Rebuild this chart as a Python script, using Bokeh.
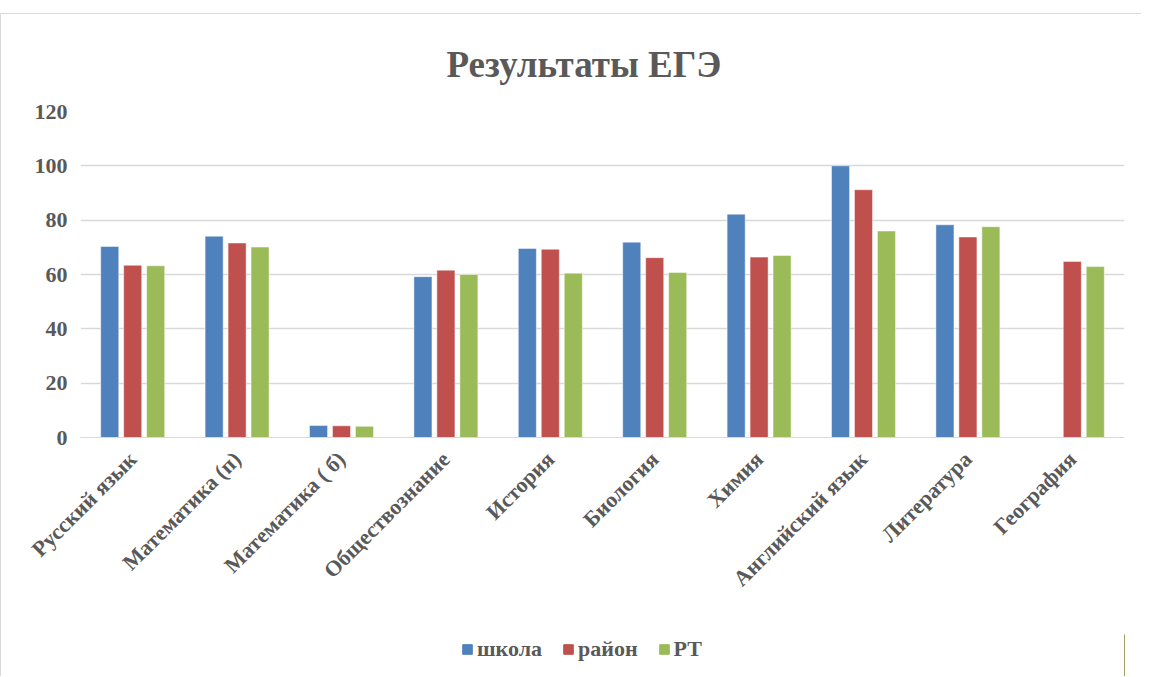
import math
from bokeh.plotting import figure
from bokeh.layouts import column
from bokeh.models import ColumnDataSource, FactorRange, Range1d, FixedTicker, Legend, LegendItem, Title
from bokeh.transform import dodge
from bokeh.embed import file_html
from bokeh.resources import INLINE

categories = ["Русский язык", "Математика (п)", "Математика ( б)", "Обществознание",
              "История", "Биология", "Химия", "Английский язык", "Литература", "География"]
school = [70.3, 74.1, 4.4, 59.2, 69.6, 71.9, 82.2, 100.0, 78.3, float("nan")]
district = [63.4, 71.6, 4.3, 61.6, 69.3, 66.2, 66.4, 91.2, 73.8, 64.8]
rt = [63.2, 70.1, 4.1, 60.0, 60.5, 60.7, 67.0, 76.0, 77.6, 62.9]
series_names = ["школа", "район", "РТ"]
y_ticks = [0, 20, 40, 60, 80, 100, 120]

colors = ["#4F81BD", "#C0504D", "#9BBB59"]
FONT = "Liberation Serif"
TXT = "#595959"

src = ColumnDataSource(dict(cat=categories, school=school, district=district, rt=rt))

p = figure(x_range=FactorRange(*categories), y_range=Range1d(0, 120),
           width=1140, height=620, output_backend="svg", toolbar_location=None,
           min_border_left=79, min_border_right=17, min_border_top=96, min_border_bottom=197)
p.outline_line_color = None

w = 0.173
off = 0.22
for field, o, c in zip(["school", "district", "rt"], [-off, 0, off], colors):
    p.vbar(x=dodge("cat", o, range=p.x_range), top=field, width=w, source=src,
           fill_color=c, line_color="white", line_width=0.8, line_alpha=0.6)

t = Title(text="Результаты ЕГЭ", align="left", text_font=FONT, text_font_size="37px",
          text_font_style="bold", text_color=TXT, offset=366, standoff=54)
p.add_layout(t, "above")

p.yaxis.ticker = FixedTicker(ticks=y_ticks)
p.yaxis.axis_line_color = None
p.yaxis.major_tick_line_color = None
p.yaxis.minor_tick_line_color = None
p.yaxis.major_label_text_font = FONT
p.yaxis.major_label_text_font_size = "22px"
p.yaxis.major_label_text_font_style = "bold"
p.yaxis.major_label_text_color = TXT
p.yaxis.major_label_standoff = 7

p.xaxis.axis_line_color = "#d9d9d9"
p.xaxis.major_tick_line_color = None
p.xaxis.minor_tick_line_color = None
p.xaxis.major_label_orientation = math.pi / 4
p.xaxis.major_label_text_font = FONT
p.xaxis.major_label_text_font_size = "22px"
p.xaxis.major_label_text_font_style = "bold"
p.xaxis.major_label_text_color = TXT
p.xaxis.major_label_standoff = 12

p.xgrid.grid_line_color = None
p.ygrid.grid_line_color = "#d9d9d9"
p.ygrid.grid_line_width = 1.5

# legend strip
lg = figure(width=1140, height=42, output_backend="svg", toolbar_location=None,
            x_range=Range1d(0, 1), y_range=Range1d(0, 1),
            x_axis_location=None, y_axis_location=None,
            min_border_left=0, min_border_right=0, min_border_top=0, min_border_bottom=0)
lg.outline_line_color = None
lg.xgrid.grid_line_color = None
lg.ygrid.grid_line_color = None
items = []
for n, c in zip(series_names, colors):
    r = lg.vbar(x=[5], top=[1], width=0.1, fill_color=c, line_color=c)
    items.append(LegendItem(label=n, renderers=[r]))
legend = Legend(items=items, orientation="horizontal", location=(381, 14),
                label_text_font=FONT, label_text_font_size="22px", label_text_font_style="bold",
                label_text_color=TXT, glyph_width=12, glyph_height=12, label_standoff=4,
                spacing=20, padding=0, margin=0, border_line_color=None, background_fill_alpha=0)
lg.add_layout(legend, "center")

layout = column(p, lg, spacing=0)
layout.styles = {"margin-top": "13px", "border-top": "1px solid #d9d9d9", "border-left": "1px solid #d9d9d9"}

open("out.html", "w").write(file_html(layout, INLINE))
